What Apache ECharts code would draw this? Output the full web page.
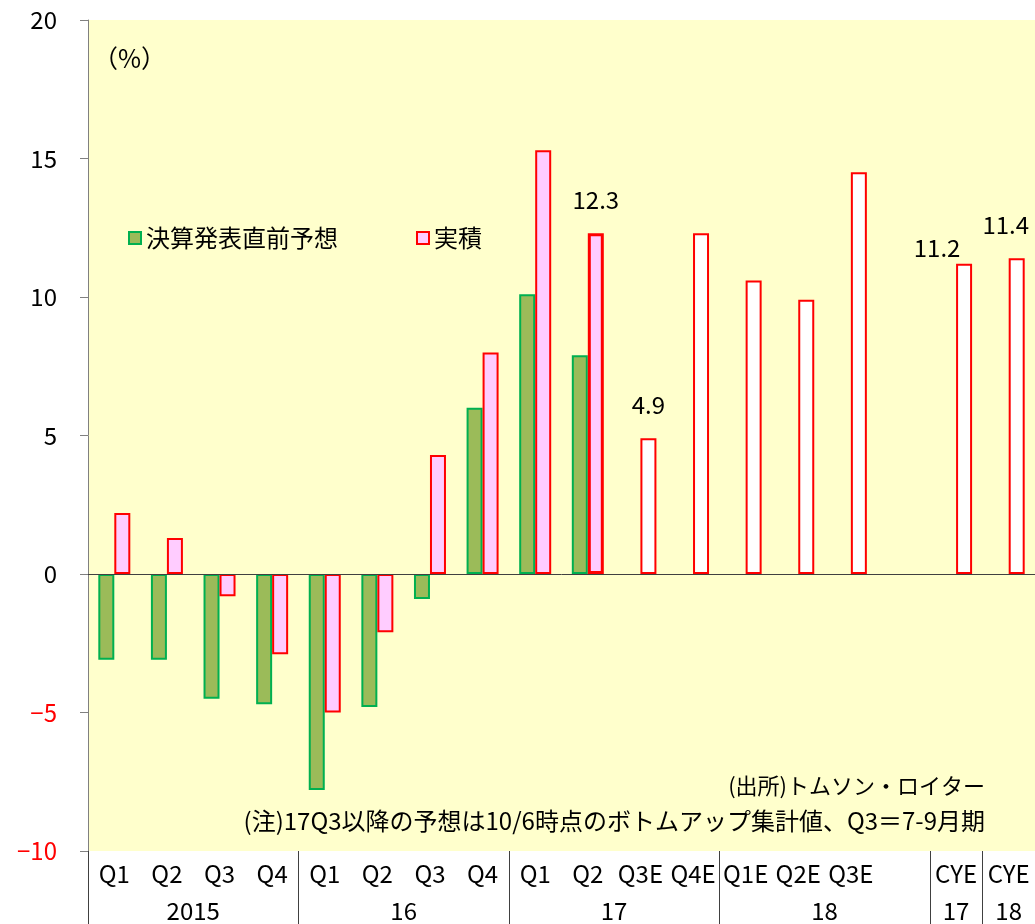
<!DOCTYPE html>
<html>
<head>
<meta charset="utf-8">
<script src="https://cdn.jsdelivr.net/npm/echarts@6/dist/echarts.min.js"></script>
<style>
  html, body { margin: 0; padding: 0; background: #fff; }
  #chart { width: 1035px; height: 924px; }
</style>
</head>
<body>
<div id="chart"></div>
<script>
// 四半期ラベル（1段目）
const quarters = ['Q1', 'Q2', 'Q3', 'Q4', 'Q1', 'Q2', 'Q3', 'Q4', 'Q1', 'Q2', 'Q3E', 'Q4E', 'Q1E', 'Q2E', 'Q3E', '', 'CYE', 'CYE'];
// 年ラベル（2段目）と、その中央位置・区切り位置（カテゴリ単位）
const years = ['2015', '16', '17', '18', '17', '18'];
const yearCenters = [2, 6, 10, 14, 16.5, 17.5];
const yearBounds = [0, 4, 8, 12, 16, 17];
// 決算発表直前予想
const preForecast = [-3.1, -3.1, -4.5, -4.7, -7.8, -4.8, -0.9, 6.0, 10.1, 7.9, null, null, null, null, null, null, null, null];
// 実積（Eが付くものは予想）
const actual = [2.2, 1.3, -0.8, -2.9, -5.0, -2.1, 4.3, 8.0, 15.3, 12.3, 4.9, 12.3, 10.6, 9.9, 14.5, null, 11.2, 11.4];
// 数値ラベルを付けるカテゴリ
const labeled = [9, 10, 16, 17];

const FONT = '"Noto Sans CJK JP", sans-serif';

// ラベル位置の微調整
const labelOffset = { 16: [-27, 17], 17: [-11, 0] };

const actualData = actual.map((v, i) => {
  const item = { value: v };
  if (quarters[i].endsWith('E')) {
    item.itemStyle = { color: '#FFFFFF' };
  }
  if (i === 9) {
    item.itemStyle = { borderWidth: 3 };
  }
  if (labeled.includes(i)) {
    item.label = {
      show: true,
      position: 'top',
      distance: 21,
      offset: labelOffset[i] || [0, 0],
      formatter: (p) => p.value.toFixed(1),
      color: '#000',
      fontSize: 24,
      fontFamily: FONT
    };
  }
  return item;
});

const chart = echarts.init(document.getElementById('chart'));

const option = {
  animation: false,
  textStyle: { fontFamily: FONT },
  title: [
    {
      text: '（%）',
      left: 88, top: 41,
      textStyle: { fontSize: 25, fontWeight: 'normal', color: '#000', fontFamily: FONT }
    },
    {
      text: '(出所)トムソン・ロイター',
      right: 45, top: 770,
      textStyle: { fontSize: 22, fontWeight: 'normal', color: '#000', fontFamily: FONT }
    },
    {
      text: '(注)17Q3以降の予想は10/6時点のボトムアップ集計値、Q3＝7-9月期',
      right: 45, top: 804,
      textStyle: { fontSize: 24, fontWeight: 'normal', color: '#000', fontFamily: FONT }
    }
  ],
  legend: {
    left: 123, top: 221,
    itemWidth: 12, itemHeight: 12,
    itemGap: 78,
    icon: 'rect',
    textStyle: { fontSize: 24, color: '#000', fontFamily: FONT },
    data: ['決算発表直前予想', '実積']
  },
  grid: {
    left: 88, top: 20, width: 950, height: 831,
    show: true, backgroundColor: '#FFFFCC', borderWidth: 0
  },
  xAxis: [
    {
      type: 'category',
      data: quarters,
      position: 'bottom',
      axisLine: { show: false },
      axisTick: { show: false },
      axisLabel: { color: '#000', fontSize: 24, margin: 11, interval: 0, fontFamily: FONT }
    },
    {
      type: 'value',
      min: 0, max: 18,
      position: 'bottom',
      axisLine: { show: false },
      splitLine: { show: false },
      axisTick: {
        show: true, length: 73,
        customValues: yearBounds,
        lineStyle: { color: '#404040', width: 1 }
      },
      axisLabel: {
        customValues: yearCenters,
        margin: 48,
        color: '#000', fontSize: 24, fontFamily: FONT,
        formatter: (v) => years[yearCenters.indexOf(v)] || ''
      }
    }
  ],
  yAxis: {
    type: 'value',
    min: -10, max: 20, interval: 5,
    axisLine: { show: true, lineStyle: { color: '#808080' } },
    axisTick: { show: true, length: 8, lineStyle: { color: '#808080' } },
    splitLine: { show: false },
    axisLabel: {
      margin: 31,
      fontSize: 24,
      fontFamily: FONT,
      formatter: (v) => String(v).replace('-', '−'),
      color: (v) => (Number(v) < 0 ? '#FF0000' : '#000')
    }
  },
  series: [
    {
      name: '決算発表直前予想',
      type: 'bar',
      data: preForecast,
      barWidth: 16,
      barGap: '0%',
      itemStyle: { color: '#9BBB59', borderColor: '#00B050', borderWidth: 2 },
      markLine: {
        silent: true,
        symbol: 'none',
        label: { show: false },
        lineStyle: { color: '#404040', width: 1, type: 'solid' },
        data: [{ yAxis: 0 }]
      }
    },
    {
      name: '実積',
      type: 'bar',
      data: actualData,
      barWidth: 16,
      barGap: '0%',
      itemStyle: { color: '#FFCCFF', borderColor: '#FF0000', borderWidth: 2 }
    }
  ]
};

chart.setOption(option);
</script>
</body>
</html>
